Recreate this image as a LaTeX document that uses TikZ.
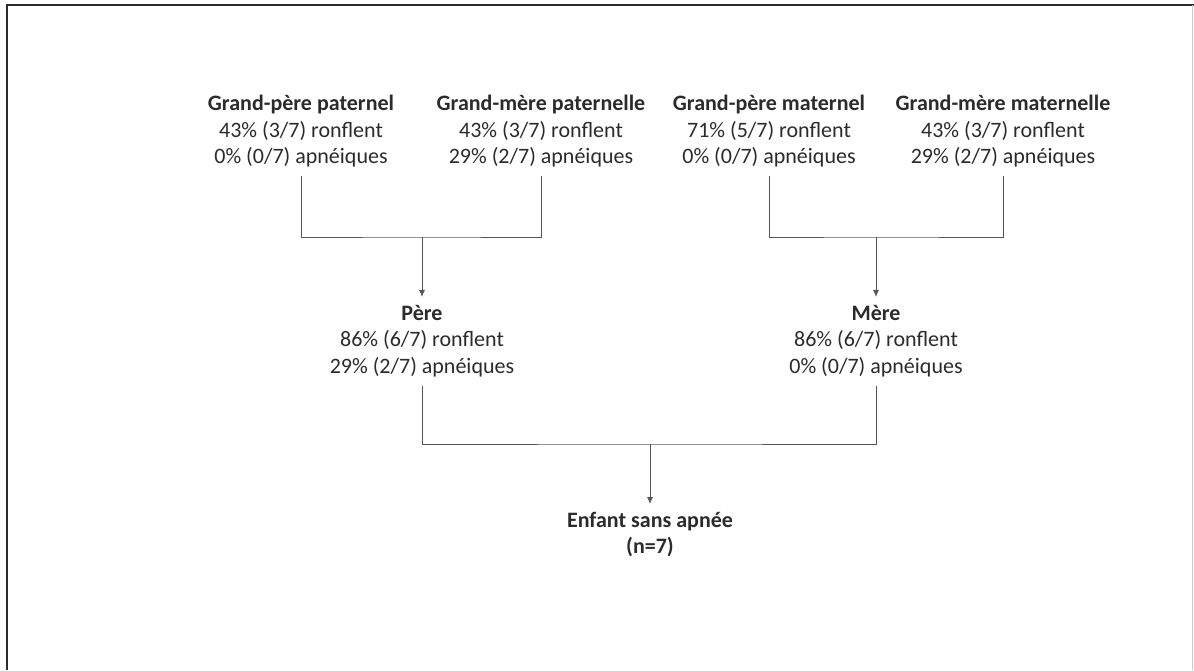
\documentclass[tikz,border=0pt]{standalone}
\usepackage{fontspec}
\setmainfont{Carlito}
\usetikzlibrary{arrows.meta}
\definecolor{inkgray}{HTML}{2B2B2B}
\tikzstyle{famtext} = [anchor=north, align=center, inner sep=0pt, text=inkgray, font=\fontsize{22}{26.5}\selectfont]
\tikzstyle{famline} = [draw, line width=0.9pt, color=inkgray!80]
\tikzstyle{famarrow} = [famline, -{Latex[length=7pt,width=6pt]}]
\tikzstyle{frameline} = [draw, line width=2pt, color=inkgray]
\newcommand{\famnode}[5]{
  \node[famtext] (#1) at (#2) {\textbf{#3}\\#4\\#5};
}
\newcommand{\famjoin}[3]{
  \coordinate (#3-bar) at ([yshift=68pt]#3.north);
  \draw[famline] ([yshift=-9pt]#1.south) |- (#3-bar) -| ([yshift=-9pt]#2.south);
  \draw[famarrow] (#3-bar) -- ([yshift=8pt]#3.north);
}

\begin{document}
\begin{tikzpicture}[x=1pt, y=1pt]
\useasboundingbox (0,0) rectangle (1194,670);
\draw[frameline] (7,0) -- (7,665) -- (1194,665);
\draw[famline, color=inkgray!25] (1192,0) -- (1192,665);

\famnode{gpp}{301,575}{Grand-père paternel}{43\% (3/7) ronflent}{0\% (0/7) apnéiques}
\famnode{gmp}{541,575}{Grand-mère paternelle}{43\% (3/7) ronflent}{29\% (2/7) apnéiques}
\famnode{gpm}{769,575}{Grand-père maternel}{71\% (5/7) ronflent}{0\% (0/7) apnéiques}
\famnode{gmm}{1003,575}{Grand-mère maternelle}{43\% (3/7) ronflent}{29\% (2/7) apnéiques}
\famnode{pere}{422,365}{Père}{86\% (6/7) ronflent}{29\% (2/7) apnéiques}
\famnode{mere}{876,365}{Mère}{86\% (6/7) ronflent}{0\% (0/7) apnéiques}
\node[famtext] (enfant) at (650,158) {\textbf{Enfant sans apnée}\\\textbf{(n=7)}};

\famjoin{gpp}{gmp}{pere}
\famjoin{gpm}{gmm}{mere}
\famjoin{pere}{mere}{enfant}
\end{tikzpicture}
\end{document}
